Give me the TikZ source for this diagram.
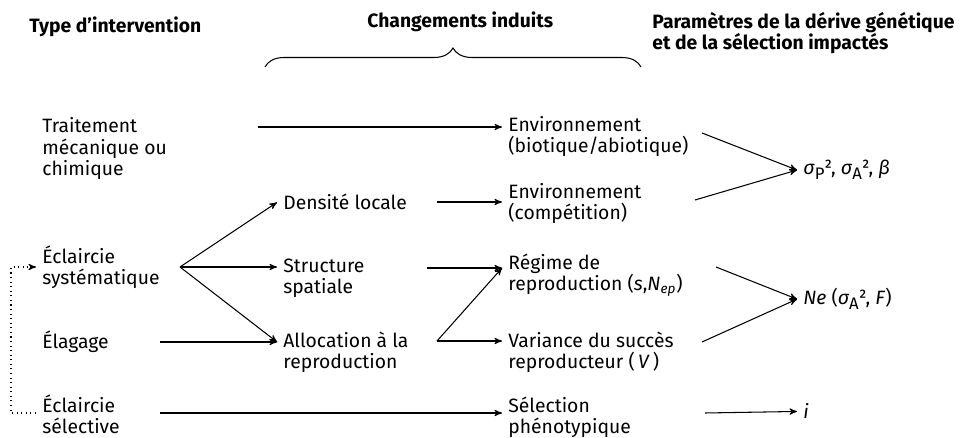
\documentclass[tikz,border=0pt]{standalone}
\usepackage{fontspec}
\setmainfont{Fira Sans}
\usepackage{tikz}
\usetikzlibrary{arrows}
\usetikzlibrary{calc}
\usetikzlibrary{positioning}
\usetikzlibrary{decorations.pathreplacing}

\newcommand{\sgm}{\textit{σ}}
\newcommand{\lowsub}[1]{\raisebox{-0.45ex}{\fontsize{9.5}{9.5}\selectfont #1}}

\begin{document}
\begin{tikzpicture}[x=0.02cm,y=-0.02cm,->,>=stealth',semithick,font=\fontsize{11}{12.5}\selectfont]
 				 \tikzstyle{every node}=[align=left, anchor=base west, text=black]
 				 \tikzstyle{title}=[font=\fontsize{11}{12.5}\selectfont\bfseries]
 				 \useasboundingbox (0,0) rectangle (960,438);
 					 % titres
 					 \node[title] (type) at (23,33) {Type d’intervention};
 					 \node[title] (chg)  at (361,28) {Changements induits};
 					 \node[title] (par)  at (646,50) {Paramètres de la dérive génétique\\et de la sélection impactés};
 					 \draw[-,decorate,decoration={brace,amplitude=0.38cm}] (265,67) -- (641,67);
 					 % interventions
 					 \node (trait) at (36,176) {Traitement\\mécanique ou\\chimique};
 					 \node (ecls)  at (36,285) {Éclaircie\\systématique};
 					 \node (elag)  at (36,349) {Élagage};
 					 \node (ecsel) at (36,434) {Éclaircie\\sélective};
 					 % changements
 					 \node (dens)   at (277,210) {Densité locale};
 					 \node (struct) at (277,294) {Structure\\spatiale};
 					 \node (alloc)  at (277,369) {Allocation à la\\reproduction};
 					 \node (env1)   at (502,153) {Environnement\\(biotique/abiotique)};
 					 \node (env2)   at (502,220) {Environnement\\(compétition)};
 					 \node (regime) at (502,291) {Régime de\\reproduction (\textit{s},\textit{N}\textsubscript{\textit{ep}})};
 					 \node (var)    at (502,369) {Variance du succès\\reproducteur (\,\textit{V}\,)};
 					 \node (selph)  at (502,434) {Sélection\\phénotypique};
 					 % parametres
 					 \node (sig) at (797,175) {\sgm\lowsub{P}², \sgm\lowsub{A}², \textit{β}};
 					 \node (ne)  at (797,305) {\textit{Ne} (\sgm\lowsub{A}², \textit{F})};
 					 \node (ii)  at (797,419) {\textit{i}};
 					 % points de depart
 					 \coordinate (t0)    at (258,127);
 					 \coordinate (split) at (180,267);
 					 \coordinate (e0)    at (160,342);
 					 \coordinate (s0)    at (160,413);
 					 \coordinate (d0)    at (437,202);
 					 \coordinate (st0)   at (427,268);
 					 \coordinate (al0)   at (437,341);
 					 \coordinate (b1)    at (702,133);
 					 \coordinate (b2)    at (695,200);
 					 \coordinate (r1)    at (716,267);
 					 \coordinate (v1)    at (702,342);
 					 \coordinate (p1)    at (705,413);
 					  \path
 					  (t0) edge (t0 -| env1.west)
 					  (split) edge (dens.west)
 					  (split) edge (split -| struct.west)
 					  (split) edge (e0 -| alloc.west)
 					  (e0) edge (e0 -| alloc.west)
 					  (d0) edge (d0 -| env2.west)
 					  (st0) edge (st0 -| regime.west)
 					  (al0) edge (st0 -| regime.west)
 					  (al0) edge (al0 -| var.west)
 					  (s0) edge (s0 -| selph.west)
 					  (b1) edge (sig.west)
 					  (b2) edge (sig.west)
 					  (r1) edge (ne.west)
 					  (v1) edge (ne.west)
 					  (p1) edge (ii.west);
 					  \draw[dotted] (s0 -| ecsel.west) -- ++(-25,0) |- (split -| ecls.west);
				\end{tikzpicture}
\end{document}
